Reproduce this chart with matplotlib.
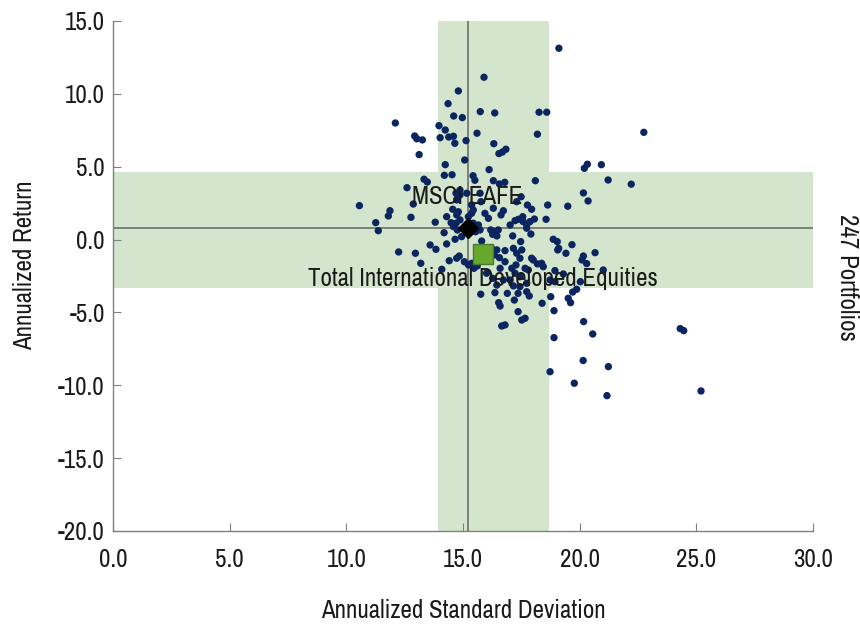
import matplotlib
matplotlib.use("Agg")
import matplotlib.pyplot as plt
from matplotlib import font_manager

fams = {f.name for f in font_manager.fontManager.ttflist}
prefs = ['Liberation Sans Narrow', 'Archivo Narrow', 'Pragati Narrow', 'Roboto Condensed',
         'PT Sans Narrow', 'Barlow Semi Condensed']
chosen = [p for p in prefs if p in fams][:1]
plt.rcParams['font.family'] = chosen + ['Liberation Sans', 'DejaVu Sans']

# ---------------- data ----------------
std_dev = [
    19.11, 15.90, 14.80, 14.36, 15.74, 16.36, 18.26, 18.59, 14.60, 14.97,
    12.10, 13.97, 14.24, 15.60, 18.19, 12.93, 13.02, 13.26, 14.02, 14.39,
    14.59, 14.65, 15.13, 16.32, 16.54, 16.69, 16.84, 13.12, 15.07, 14.24,
    16.12, 20.20, 20.33, 20.93, 22.75,
    14.20, 14.53, 15.43, 15.51, 18.10, 16.30, 13.33, 13.47, 12.60, 16.56,
    16.79, 20.16, 21.22, 22.21, 20.36, 19.49, 10.56, 11.87, 11.80, 11.26,
    11.37, 12.77, 12.87, 13.81, 14.19, 13.59, 13.84, 14.30, 14.66, 14.94,
    12.24, 12.96, 18.63, 17.76, 17.94, 17.49, 17.30, 15.77, 15.94, 16.09,
    16.63, 16.73, 17.02, 17.23, 17.37, 17.58, 17.73, 17.87, 18.06, 18.56,
    15.44, 15.66, 15.59, 15.73, 16.19, 16.37, 16.51, 16.45, 16.27, 17.13,
    17.73, 17.91, 17.47, 15.80, 18.87, 19.04, 19.10, 19.67, 19.41, 20.66,
    20.16, 20.10, 20.30, 21.01, 19.30, 20.03, 16.45, 16.80, 17.30, 17.52,
    17.44, 17.94, 19.06, 18.01, 18.19, 18.37, 18.44, 18.94, 18.73, 18.94,
    13.19, 14.41, 14.73, 14.84, 15.06, 15.23, 15.37, 15.47, 15.61, 14.09,
    16.59, 16.80, 17.09, 17.27, 17.23, 17.66, 17.80,
    15.76, 16.37, 16.90, 17.36, 17.73, 17.84, 17.20, 16.53, 16.59, 17.36,
    17.66, 17.52, 16.66, 16.80, 19.87, 19.70, 19.51, 19.61, 18.76, 18.39,
    18.90, 20.17, 20.56, 18.90, 20.15, 21.23, 18.73, 19.77, 21.17, 25.20,
    24.31, 24.46,
    14.56, 14.80, 14.73, 14.87, 14.70, 14.59, 14.76, 15.23, 15.54, 16.30,
    14.87, 15.16, 15.37, 15.44, 14.73, 14.49, 14.30, 14.76, 17.56, 17.73,
    17.44, 16.23, 17.16, 16.34, 16.56, 16.01, 16.27, 16.45, 16.73, 17.02,
    17.16, 17.44, 14.70, 14.87, 15.73, 15.37,
]
ann_return = [
    13.13, 11.14, 10.20, 9.33, 8.78, 8.69, 8.74, 8.74, 8.48, 8.37,
    8.00, 7.82, 7.52, 7.30, 7.23, 7.11, 6.92, 6.84, 6.99, 7.04,
    7.09, 6.61, 6.79, 6.58, 5.90, 6.01, 6.20, 5.83, 5.46, 5.14,
    4.80, 4.89, 5.17, 5.14, 7.36,
    4.41, 4.45, 4.38, 4.07, 4.04, 4.04, 4.14, 3.95, 3.56, 3.82,
    3.93, 3.20, 4.09, 3.80, 2.65, 2.29, 2.33, 1.98, 1.62, 1.16,
    0.61, 1.53, 2.44, 1.19, 0.47, -0.37, -0.67, -0.30, 0.02, 0.20,
    -0.85, -0.94, 2.37, 2.37, 2.08, 2.94, 2.60, 2.60, 1.80, 1.46,
    1.69, 1.98, 1.00, 1.30, 1.39, 1.23, 1.00, 1.23, 1.41, 1.39,
    1.12, 1.00, 0.66, 0.66, 0.66, 0.54, 0.66, 0.25, 0.36, 0.25,
    0.78, 0.38, -0.14, -0.10, 0.02, -0.14, -0.60, -0.35, -0.94, -0.90,
    -1.13, -1.40, -1.65, -2.09, -2.36, -2.89, -0.71, -0.76, -0.94, -0.71,
    -1.28, -1.28, -0.71, -1.40, -1.67, -1.63, -1.86, -2.13, -2.77, -2.89,
    -1.63, -1.45, -1.28, -1.13, -1.52, -1.74, -1.63, -1.97, -1.81, -2.04,
    -1.97, -1.52, -1.97, -1.74, -2.31, -1.97, -2.09,
    -3.75, -3.64, -3.69, -3.69, -3.58, -3.87, -4.15, -4.33, -4.56, -4.95,
    -5.40, -5.52, -5.93, -5.86, -3.41, -3.60, -4.03, -4.33, -3.92, -4.37,
    -4.88, -5.63, -6.48, -6.73, -8.30, -8.72, -9.07, -9.86, -10.71, -10.39,
    -6.11, -6.25,
    2.08, 1.91, 1.69, 1.35, 1.12, 0.89, 0.66, 1.57, 0.54, 2.15,
    3.06, 3.18, 2.38, 2.03, 2.72, 1.16, 1.57, 2.83, 1.57, -3.00,
    -2.55, -0.60, -0.60, -1.06, -1.24, -2.31, -2.66, -3.12, -2.77, -2.77,
    -3.18, -3.23, 3.18, 3.40, 3.18, 1.80,
]

benchmark_name = "MSCI EAFE"
benchmark_point = (15.2, 0.78)
portfolio_name = "Total International Developed Equities"
portfolio_point = (15.87, -0.99)

band_x = (13.93, 18.69)
band_y = (-3.30, 4.66)
universe_label = "247 Portfolios"

x_ticks = [0, 5, 10, 15, 20, 25, 30]
y_ticks = [15, 10, 5, 0, -5, -10, -15, -20]

# ---------------- plot ----------------
FS = 18
fig = plt.figure(figsize=(8.6, 6.26), dpi=100)
ax = fig.add_axes([113/860, 1 - 531/626, 700/860, 510/626])
ax.set_xlim(0, 30)
ax.set_ylim(-20, 15)

band_color = '#d4e5cd'
ax.axvspan(band_x[0], band_x[1], color=band_color, lw=0, zorder=0)
ax.axhspan(band_y[0], band_y[1], color=band_color, lw=0, zorder=0)
ax.axvline(benchmark_point[0], color='#6e6e6e', lw=1.2, zorder=1)
ax.axhline(benchmark_point[1], color='#6e6e6e', lw=1.2, zorder=1)

ax.scatter(std_dev, ann_return, s=28, color='#0b2560', edgecolors='none', zorder=3)

ax.plot(*benchmark_point, marker='D', ms=10, color='black', ls='none', zorder=4)
ax.plot(*portfolio_point, marker='s', ms=14, mfc='#66a82e', mec='#4d7a28', mew=1, ls='none', zorder=4)

ax.text(benchmark_point[0], benchmark_point[1] + 1.4, benchmark_name, ha='center', va='bottom',
        fontsize=FS, color='#1a1a1a', zorder=5)
ax.text(portfolio_point[0], portfolio_point[1] - 0.9, portfolio_name, ha='center', va='top',
        fontsize=FS, color='#1a1a1a', zorder=5)

ax.set_xticks(x_ticks)
ax.set_yticks(y_ticks)
ax.set_xticklabels([f"{v:.1f}" for v in x_ticks])
ax.set_yticklabels([f"{v:.1f}" for v in y_ticks])
ax.tick_params(direction='in', length=6, width=0.8, color='#808080', labelsize=FS,
               labelcolor='#1a1a1a', pad=6)
ax.tick_params(axis='x', pad=12)
for s in ['top', 'right']:
    ax.spines[s].set_visible(False)
for s in ['left', 'bottom']:
    ax.spines[s].set_color('#808080')
    ax.spines[s].set_linewidth(1.0)

fig.text(463/860, 1 - 610/626, "Annualized Standard Deviation", ha='center', va='center',
         fontsize=FS, color='#1a1a1a')
fig.text(25/860, 1 - 265/626, "Annualized Return", ha='center', va='center', rotation=90,
         fontsize=FS, color='#1a1a1a')
fig.text(848/860, 1 - 277/626, universe_label, ha='center', va='center', rotation=270,
         fontsize=FS, color='#1a1a1a')

fig.savefig("out.png", dpi=100)
